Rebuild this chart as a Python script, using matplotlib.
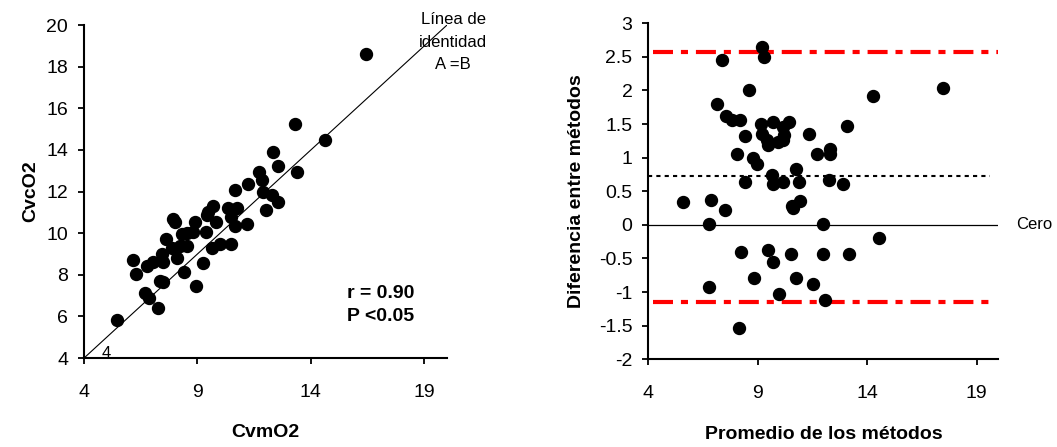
import matplotlib
matplotlib.use("Agg")
import matplotlib.pyplot as plt

plt.rcParams['font.family'] = ['Liberation Sans', 'DejaVu Sans']

# panel izquierdo: CvmO2 vs CvcO2
cvm = [5.44, 6.17, 6.28, 6.69, 6.86, 7.25, 6.76, 7.02, 7.42, 7.50, 7.47, 7.35,
       7.60, 7.94, 8.00, 7.86, 8.08, 8.23, 8.52, 8.42, 8.92, 8.30, 8.52, 8.81,
       8.89, 9.36, 9.26, 9.40, 9.48, 9.67, 9.81, 9.65, 9.99, 10.48, 10.36, 10.73,
       10.50, 10.65, 10.65, 11.17, 11.24, 11.72, 11.83, 11.87, 12.27, 12.56, 12.00,
       12.31, 12.56, 13.37, 13.32, 16.45, 14.60]
cvc = [5.83, 8.71, 8.04, 7.11, 6.87, 6.39, 8.44, 8.60, 9.00, 8.63, 7.67, 7.72,
       9.71, 10.67, 10.55, 9.27, 8.79, 9.37, 9.38, 8.12, 7.46, 9.96, 10.00, 10.07,
       10.55, 10.07, 8.55, 10.88, 11.03, 11.32, 10.55, 9.30, 9.46, 9.46, 11.20, 11.20,
       10.79, 10.35, 12.08, 10.42, 12.37, 12.96, 12.56, 12.00, 11.84, 11.49, 11.12,
       13.92, 13.23, 12.96, 15.25, 18.60, 14.48]

# panel derecho: Bland-Altman
promedio = [7.38, 9.20, 9.28, 8.59, 7.12, 7.56, 7.82, 8.17, 8.40, 8.07, 8.76, 8.94,
            9.13, 9.71, 9.20, 9.40, 9.48, 9.94, 10.17, 10.20, 10.17, 10.43, 11.36,
            11.70, 12.28, 12.28, 13.08, 14.28, 17.48,
            9.63, 10.75, 8.40, 9.71, 10.17, 10.86, 12.24, 12.90, 5.56, 6.87, 7.48,
            10.58, 10.94, 10.63, 6.76, 11.96,
            8.25, 9.45, 9.71, 10.51, 11.96, 13.16, 14.54, 8.83, 10.75, 11.52, 6.76,
            9.98, 12.05, 8.14]
diferencia = [2.46, 2.64, 2.50, 2.01, 1.80, 1.62, 1.56, 1.56, 1.33, 1.06, 1.00, 0.91,
              1.50, 1.53, 1.35, 1.26, 1.19, 1.24, 1.26, 1.34, 1.46, 1.53, 1.35,
              1.06, 1.13, 1.06, 1.47, 1.92, 2.03,
              0.74, 0.83, 0.64, 0.61, 0.64, 0.64, 0.67, 0.61, 0.34, 0.37, 0.22,
              0.28, 0.35, 0.25, 0.01, 0.01,
              -0.41, -0.37, -0.55, -0.43, -0.43, -0.43, -0.20, -0.79, -0.79, -0.88, -0.93,
              -1.03, -1.12, -1.54]

media_dif = 0.73
lim_sup = 2.57
lim_inf = -1.15

fig = plt.figure(figsize=(10.57, 4.47), dpi=100)


def estilo(ax):
    ax.spines['top'].set_visible(False)
    ax.spines['right'].set_visible(False)
    ax.spines['left'].set_linewidth(1.5)
    ax.spines['bottom'].set_linewidth(1.5)
    ax.tick_params(direction='out', length=4.5, width=1.3, labelsize=14, pad=7)
    ax.tick_params(axis='x', pad=14)


ax1 = fig.add_axes([0.0795, 0.199, 0.3434, 0.745])
estilo(ax1)
ax1.plot([4, 20], [4, 20], color='black', lw=0.8)
ax1.plot(cvm, cvc, 'o', color='black', ms=8.6, clip_on=False)
ax1.set_xlim(4, 20)
ax1.set_ylim(4, 20)
ax1.set_xticks([4, 9, 14, 19])
ax1.set_yticks(range(4, 21, 2))
ax1.set_xlabel('CvmO2', fontsize=14, fontweight='bold', labelpad=17)
ax1.set_ylabel('CvcO2', fontsize=14, fontweight='bold', labelpad=5)
ax1.text(15.57, 6.9, 'r = 0.90', fontsize=14, fontweight='bold')
ax1.text(15.57, 5.78, 'P <0.05', fontsize=14, fontweight='bold')
ax1.text(4.97, 4.2, '4', fontsize=12, ha='center', va='center', clip_on=False)
fig.text(0.4286, 0.906, 'Línea de\nidentidad\nA =B', fontsize=12,
         ha='center', va='center', linespacing=1.6)

ax2 = fig.add_axes([0.6135, 0.1962, 0.3311, 0.7517])
estilo(ax2)
ax2.axhline(0, color='black', lw=0.9)
ax2.plot([4.2, 20], [lim_sup, lim_sup], color='red', lw=3,
         linestyle=(0, (4.8, 1.9, 1.7, 1.9)))
ax2.plot([4.2, 19.8], [lim_inf, lim_inf], color='red', lw=3,
         linestyle=(0, (4.8, 1.9, 1.7, 1.9)))
ax2.plot([4, 19.6], [media_dif, media_dif], color='black', lw=1.5,
         linestyle=(0, (2, 2)))
ax2.plot(promedio, diferencia, 'o', color='black', ms=8.6, clip_on=False)
ax2.set_xlim(4, 20)
ax2.set_ylim(-2, 3)
ax2.set_xticks([4, 9, 14, 19])
ax2.set_yticks([-2, -1.5, -1, -0.5, 0, 0.5, 1, 1.5, 2, 2.5, 3])
ax2.set_yticklabels(['-2', '-1.5', '-1', '-0.5', '0', '0.5', '1', '1.5', '2', '2.5', '3'])
ax2.set_xlabel('Promedio de los métodos', fontsize=14, fontweight='bold', labelpad=17)
ax2.set_ylabel('Diferencia entre métodos', fontsize=14, fontweight='bold', labelpad=10)
ax2.text(1.05, 0, 'Cero', transform=ax2.get_yaxis_transform(), fontsize=12,
         va='center', ha='left')

fig.savefig('out.png', dpi=100)
